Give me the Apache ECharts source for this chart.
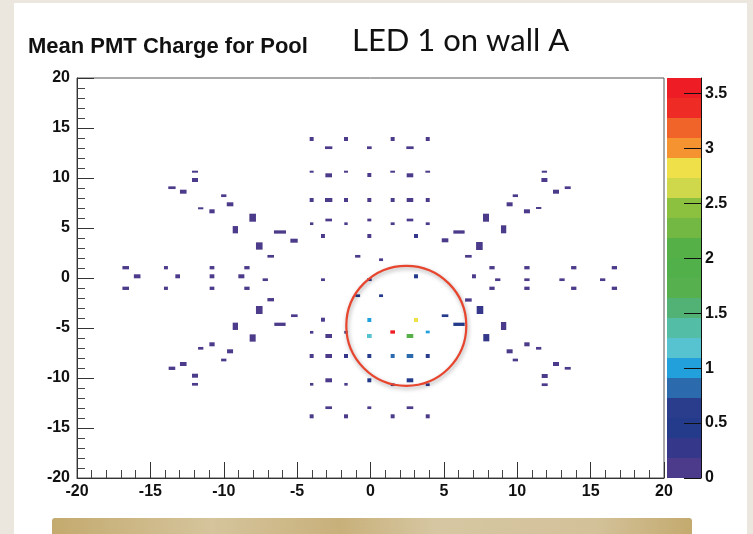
<!DOCTYPE html>
<html>
<head>
<meta charset="utf-8">
<script src="https://cdn.jsdelivr.net/npm/echarts@6/dist/echarts.min.js"></script>
<style>
html,body{margin:0;padding:0;background:#ebe6de;}
#chart{width:753px;height:534px;}
</style>
</head>
<body>
<div id="chart"></div>
<script>
// ---- data (histogram cells: x centre, y centre, bin width, bin height, mean charge) ----
const TITLE = 'Mean PMT Charge for Pool';
const SUBTITLE = 'LED 1 on wall A';
const X_RANGE = [-20, 20];
const Y_RANGE = [-20, 20];
const AXIS_STEP = 5;
const Z_MAX = 3.64;
const COLOR_TICKS = [0, 0.5, 1, 1.5, 2, 2.5, 3, 3.5];
const PALETTE = ['#4c3a8b','#35388a','#243a8a','#2a3d8d','#2c6aae','#22a0db','#58c3d0','#53bda5','#52b276','#55b04d',
                 '#52b04a','#55b048','#72b843','#8cc03f','#cfd84b','#efe04a','#f59331','#f0642a','#ef2b25','#ee1c25'];

// upper half
const upperCells = [
  [-4.01,13.9,.27,.4,.1],[-2.85,13.03,.5,.27,.1],[-1.67,13.9,.27,.4,.1],[-0.08,13.03,.32,.27,.1],
  [1.51,13.9,.27,.4,.1],[2.69,13.03,.5,.27,.1],[3.9,13.9,.27,.4,.1],
  [-4.01,10.63,.27,.2,.1],[-2.85,10.27,.45,.4,.1],[-1.67,10.63,.27,.2,.1],[-0.08,10.3,.27,.4,.1],
  [1.51,10.63,.32,.2,.1],[2.69,10.27,.45,.4,.1],[3.9,10.63,.32,.2,.1],
  [-4.01,7.8,.27,.4,.1],[-2.85,7.8,.5,.4,.1],[-1.67,7.8,.27,.4,.1],[-0.08,7.8,.27,.4,.1],
  [1.51,7.8,.27,.4,.1],[2.69,7.8,.45,.4,.1],[3.9,7.8,.27,.4,.1],
  [-4.01,5.43,.23,.27,.1],[-2.85,5.8,.45,.27,.1],[-1.67,5.43,.23,.27,.1],[-0.08,5.8,.27,.27,.1],
  [1.51,5.43,.27,.27,.1],[2.69,5.8,.45,.27,.1],[3.9,5.43,.27,.27,.1],
  [-3.24,4.2,.27,.4,.1],[-0.08,4.2,.27,.4,.1],[3.1,4.2,.27,.4,.3],
  [-0.87,2.17,.36,.27,.1],[0.72,1.83,.27,.27,.1],
  [-11.96,10.63,.41,.2,.1],[-11.96,9.8,.41,.4,.1],[-13.53,9.03,.5,.27,.1],[-12.76,8.63,.45,.4,.1],
  [-10.0,8.23,.36,.27,.1],[-9.57,7.37,.45,.4,.1],[-11.57,6.97,.36,.2,.1],[-10.8,6.67,.36,.4,.1],
  [-8.03,6.03,.45,.8,.1],[-9.21,4.83,.36,.73,.1],[-6.17,4.6,.82,.33,.1],[-5.21,3.73,.5,.4,.1],
  [-7.58,3.2,.45,.73,.1],[-6.8,2.17,.45,.27,.1],
  [11.85,10.63,.36,.2,.1],[11.85,9.8,.41,.4,.1],[13.44,9.03,.41,.27,.1],[12.64,8.63,.41,.4,.1],
  [9.87,8.23,.36,.27,.1],[9.48,7.37,.41,.4,.1],[11.46,7.0,.36,.2,.1],[10.66,6.67,.41,.4,.1],
  [7.87,6.03,.41,.8,.1],[9.07,4.87,.36,.8,.1],[6.03,4.6,.77,.33,.1],[5.08,3.77,.45,.4,.1],
  [7.42,3.2,.45,.8,.1],[6.67,2.17,.45,.27,.1]
];

// middle band (y close to 0)
const middleCells = [
  [-16.68,1.03,.45,.33,.1],[-13.94,1.03,.27,.33,.1],[-10.8,1.03,.32,.33,.1],[-8.42,1.03,.36,.33,.1],
  [-15.9,0.17,.45,.4,.1],[-13.14,0.17,.32,.4,.1],[-10.8,0.17,.32,.4,.1],[-8.8,0.17,.41,.4,.1],
  [-7.17,-0.17,.36,.27,.1],[-3.24,-0.17,.27,.27,.1],[-0.08,-0.17,.32,.27,.35],[3.1,0.17,.27,.4,.5],
  [7.05,0.17,.27,.4,.1],
  [-16.68,-1.03,.45,.33,.1],[-13.94,-1.03,.27,.33,.1],[-10.8,-1.03,.32,.33,.1],[-8.42,-1.03,.36,.33,.1],
  [8.28,1.03,.36,.33,.1],[10.66,1.03,.36,.33,.1],[13.85,1.03,.36,.33,.1],[16.62,1.03,.36,.33,.1],
  [8.67,-0.17,.36,.27,.1],[10.66,-0.17,.36,.27,.1],[13.05,-0.17,.36,.27,.1],[15.82,-0.17,.36,.27,.1],
  [8.28,-1.03,.36,.33,.1],[10.66,-1.03,.36,.33,.1],[13.85,-1.03,.36,.33,.1],[16.62,-1.03,.36,.33,.1],
  [-0.87,-1.77,.32,.27,.5],[0.72,-1.77,.27,.27,.5]
];

// lower half
const lowerCells = [
  [-6.8,-2.17,.45,.33,.1],[-7.58,-3.2,.45,.8,.1],[-5.19,-3.77,.45,.27,.1],[-3.24,-4.17,.27,.4,.1],
  [-6.17,-4.63,.77,.33,.1],[-9.21,-4.83,.36,.73,.1],[-8.03,-6.0,.41,.73,.1],
  [-10.8,-6.63,.36,.4,.1],[-11.57,-7.03,.36,.27,.1],[-9.57,-7.33,.41,.4,.1],[-10.0,-8.2,.36,.27,.1],
  [-13.53,-9.03,.45,.33,.1],[-12.76,-8.6,.45,.4,.1],[-11.96,-9.77,.41,.4,.1],[-11.96,-10.63,.41,.27,.1],
  [6.67,-2.2,.45,.33,.1],[7.46,-3.2,.45,.8,.2],[5.08,-3.77,.45,.27,.4],[6.03,-4.63,.77,.33,.5],
  [9.07,-4.8,.36,.8,.1],[7.89,-5.97,.41,.73,.25],[10.66,-6.63,.36,.4,.1],[11.46,-7.03,.36,.27,.1],
  [9.48,-7.33,.41,.4,.1],[9.87,-8.2,.36,.27,.1],[12.64,-8.6,.41,.4,.1],[13.44,-9.03,.41,.27,.1],
  [11.87,-9.8,.41,.4,.1],[11.87,-10.67,.41,.27,.1],
  [-0.08,-4.2,.27,.4,1.0],[3.1,-4.2,.27,.4,2.8],
  [-4.01,-5.43,.23,.27,.1],[-2.85,-5.8,.45,.4,.1],[-1.67,-5.43,.23,.27,.3],[-0.08,-5.8,.32,.4,1.18],
  [1.51,-5.4,.32,.33,3.6],[2.69,-5.8,.45,.4,2.05],[3.9,-5.4,.27,.27,1.0],
  [-4.01,-7.8,.27,.4,.1],[-2.85,-7.8,.45,.4,.1],[-1.67,-7.8,.27,.4,.3],[-0.08,-7.8,.27,.4,.55],
  [1.51,-7.8,.27,.4,.82],[2.69,-7.8,.45,.4,.82],[3.9,-7.8,.27,.4,.55],
  [-4.01,-10.63,.23,.27,.1],[-2.85,-10.23,.45,.4,.1],[-1.67,-10.63,.23,.27,.1],[-0.08,-10.23,.27,.4,.45],
  [1.51,-10.67,.27,.27,.2],[2.69,-10.23,.45,.4,.5],[3.9,-10.67,.27,.27,.2],
  [-2.85,-12.97,.45,.27,.1],[-0.08,-12.97,.27,.27,.1],[2.69,-12.97,.45,.27,.1],
  [-4.01,-13.83,.27,.4,.1],[-1.67,-13.83,.27,.4,.1],[1.51,-13.83,.27,.4,.1],[3.9,-13.83,.27,.4,.1]
];

// annotation circle (data centre)
const CIRCLE_CENTER = [2.44, -4.78];

// ---- chart ----
const cells = upperCells.concat(middleCells, lowerCells);
const STEP = Z_MAX / PALETTE.length;
function colorFor(v) {
  let i = Math.floor(v / STEP);
  if (i < 0) i = 0;
  if (i >= PALETTE.length) i = PALETTE.length - 1;
  return PALETTE[i];
}
const paletteBands = PALETTE.map((c, i) => [i * STEP, (i + 1) * STEP, i]);

const chart = echarts.init(document.getElementById('chart'), null, {renderer: 'canvas'});
const AX_FONT = {fontFamily: 'Liberation Sans, Arial, sans-serif', fontWeight: 'bold', fontSize: 16, color: '#111'};

const option = {
  backgroundColor: '#ebe6de',
  animation: false,
  graphic: [
    {type: 'rect', z: -10, silent: true, shape: {x: 14, y: 3, width: 733, height: 531}, style: {fill: '#ffffff'}},
    {type: 'rect', z: -9, silent: true, shape: {x: 52, y: 518, width: 640, height: 18, r: [3, 3, 0, 0]},
     style: {fill: new echarts.graphic.LinearGradient(0, 0, 1, 0, [
       {offset: 0, color: '#c3aa6e'}, {offset: 0.25, color: '#d5c49c'}, {offset: 0.45, color: '#c8b07a'},
       {offset: 0.6, color: '#d6c7a2'}, {offset: 0.85, color: '#d3c199'}, {offset: 1, color: '#c3aa6e'}])}}
  ],
  title: [
    {text: TITLE, left: 23, top: 31, textStyle: {fontFamily: 'Liberation Sans, Arial, sans-serif', fontWeight: 'bold', fontSize: 22, color: '#111'}},
    {text: SUBTITLE, left: 347, top: 20, textStyle: {fontFamily: 'Lato, sans-serif', fontWeight: 'normal', fontSize: 31, color: '#111'}}
  ],
  grid: [
    {left: 77, top: 78, width: 587, height: 400, show: true, borderColor: '#555', borderWidth: 1, backgroundColor: '#fff'},
    {left: 667, top: 78, width: 34, height: 400, show: false}
  ],
  xAxis: [
    {type: 'value', gridIndex: 0, min: X_RANGE[0], max: X_RANGE[1], interval: AXIS_STEP,
     axisLine: {show: true, onZero: false, lineStyle: {color: '#333', width: 1}},
     axisTick: {show: true, inside: true, length: 16, lineStyle: {color: '#333'}},
     minorTick: {show: true, splitNumber: 5, length: 8, lineStyle: {color: '#444'}},
     splitLine: {show: false},
     axisLabel: Object.assign({margin: 6}, AX_FONT)},
    {type: 'value', gridIndex: 1, min: 0, max: 1, show: false}
  ],
  yAxis: [
    {type: 'value', gridIndex: 0, min: Y_RANGE[0], max: Y_RANGE[1], interval: AXIS_STEP,
     axisLine: {show: true, onZero: false, lineStyle: {color: '#333', width: 1}},
     axisTick: {show: true, inside: true, length: 17, lineStyle: {color: '#333'}},
     minorTick: {show: true, splitNumber: 5, length: 8, lineStyle: {color: '#444'}},
     splitLine: {show: false},
     axisLabel: Object.assign({margin: 7}, AX_FONT)},
    {type: 'value', gridIndex: 1, min: 0, max: Z_MAX, position: 'right', z: 10,
     axisLine: {show: true, onZero: false, lineStyle: {color: '#111', width: 1}},
     axisTick: {show: true, inside: true, length: 17, customValues: COLOR_TICKS, lineStyle: {color: '#111'}},
     splitLine: {show: false},
     axisLabel: Object.assign({margin: 4, customValues: COLOR_TICKS}, AX_FONT)}
  ],
  series: [
    {type: 'custom', xAxisIndex: 0, yAxisIndex: 0, data: cells, clip: true,
     renderItem: function (params, api) {
       const x = api.value(0), y = api.value(1), w = api.value(2), h = api.value(3), v = api.value(4);
       const p0 = api.coord([x - w / 2, y + h / 2]);
       const p1 = api.coord([x + w / 2, y - h / 2]);
       return {type: 'rect', shape: {x: p0[0], y: p0[1], width: p1[0] - p0[0], height: p1[1] - p0[1]},
               style: {fill: colorFor(v)}};
     }},
    {type: 'custom', xAxisIndex: 1, yAxisIndex: 1, data: paletteBands, z: 1,
     renderItem: function (params, api) {
       const lo = api.value(0), hi = api.value(1), i = api.value(2);
       const p0 = api.coord([0, hi]);
       const p1 = api.coord([1, lo]);
       return {type: 'rect', shape: {x: p0[0], y: p0[1], width: p1[0] - p0[0], height: p1[1] - p0[1]},
               style: {fill: PALETTE[i]}};
     }}
  ]
};
chart.setOption(option);

const c = chart.convertToPixel({gridIndex: 0}, CIRCLE_CENTER);
chart.setOption({
  graphic: [
    {type: 'rect', z: -10, silent: true, shape: {x: 14, y: 3, width: 733, height: 531}, style: {fill: '#ffffff'}},
    option.graphic[1],
    {type: 'circle', z: 100, silent: true, shape: {cx: c[0], cy: c[1], r: 60},
     style: {fill: 'none', stroke: '#e8452e', lineWidth: 2.2, shadowBlur: 4, shadowColor: 'rgba(0,0,0,0.35)', shadowOffsetX: 1, shadowOffsetY: 2}}
  ]
});
</script>
</body>
</html>
